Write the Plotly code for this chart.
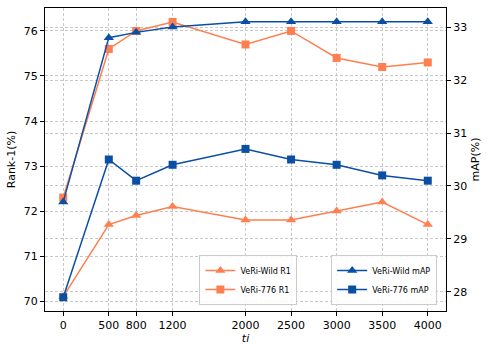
import plotly.graph_objects as go

# x positions (ti)
ti = [0, 500, 800, 1200, 2000, 2500, 3000, 3500, 4000]

# Rank-1 (%) on left axis
wild_r1 = [70.1, 71.7, 71.9, 72.1, 71.8, 71.8, 72.0, 72.2, 71.7]
v776_r1 = [72.3, 75.6, 76.0, 76.2, 75.7, 76.0, 75.4, 75.2, 75.3]

# mAP (%) on right axis
wild_map = [29.7, 32.8, 32.9, 33.0, 33.1, 33.1, 33.1, 33.1, 33.1]
v776_map = [27.9, 30.5, 30.1, 30.4, 30.7, 30.5, 30.4, 30.2, 30.1]

orange = "#FF7F50"
blue = "#0A4FA3"

fig = go.Figure()
fig.add_trace(go.Scatter(x=ti, y=wild_r1, mode="lines+markers", name="VeRi-Wild R1",
                         line=dict(color=orange, width=1.5),
                         marker=dict(symbol="triangle-up", size=9, color=orange),
                         legend="legend"))
fig.add_trace(go.Scatter(x=ti, y=v776_r1, mode="lines+markers", name="VeRi-776 R1",
                         line=dict(color=orange, width=1.5),
                         marker=dict(symbol="square", size=8, color=orange),
                         legend="legend"))
fig.add_trace(go.Scatter(x=ti, y=wild_map, mode="lines+markers", name="VeRi-Wild mAP",
                         line=dict(color=blue, width=1.5),
                         marker=dict(symbol="triangle-up", size=9, color=blue),
                         yaxis="y2", legend="legend2"))
fig.add_trace(go.Scatter(x=ti, y=v776_map, mode="lines+markers", name="VeRi-776 mAP",
                         line=dict(color=blue, width=1.5),
                         marker=dict(symbol="square", size=8, color=blue),
                         yaxis="y2", legend="legend2"))

grid = dict(showgrid=True, gridcolor="#c8c8c8", griddash="3px,2px", gridwidth=1,
            ticks="outside", ticklen=4, tickcolor="black", zeroline=False,
            showline=True, linecolor="black", linewidth=1.2, automargin=False)

fig.update_layout(
    width=491, height=354,
    margin=dict(l=45, r=45, t=8, b=43),
    plot_bgcolor="white", paper_bgcolor="white",
    font=dict(family="DejaVu Sans", size=11, color="black"),
    showlegend=True,
    xaxis=dict(range=[-200, 4200], tickvals=ti, mirror=True,
               title=dict(text="<i>ti</i>", standoff=2, font=dict(size=11)),
               **grid),
    yaxis=dict(range=[69.78, 76.51], tickvals=[70, 71, 72, 73, 74, 75, 76],
               title=dict(text="Rank-1(%)", standoff=5, font=dict(size=11)),
               **grid),
    yaxis2=dict(range=[27.64, 33.36], tickvals=[28, 29, 30, 31, 32, 33],
                overlaying="y", side="right",
                title=dict(text="mAP(%)", standoff=5, font=dict(size=11)),
                **grid),
    legend=dict(x=0.385, y=0.02, xanchor="left", yanchor="bottom",
                bgcolor="rgba(255,255,255,0.85)", bordercolor="#cccccc", borderwidth=1,
                font=dict(size=8), tracegroupgap=0, itemwidth=30),
    legend2=dict(x=0.978, y=0.02, xanchor="right", yanchor="bottom",
                 bgcolor="rgba(255,255,255,0.85)", bordercolor="#cccccc", borderwidth=1,
                 font=dict(size=8), tracegroupgap=0, itemwidth=30),
)

# drop the default page margin so the figure sits at the window's corner
fig.write_html("out.html", config={"displayModeBar": False},
               post_script="document.body.style.margin='0';")
